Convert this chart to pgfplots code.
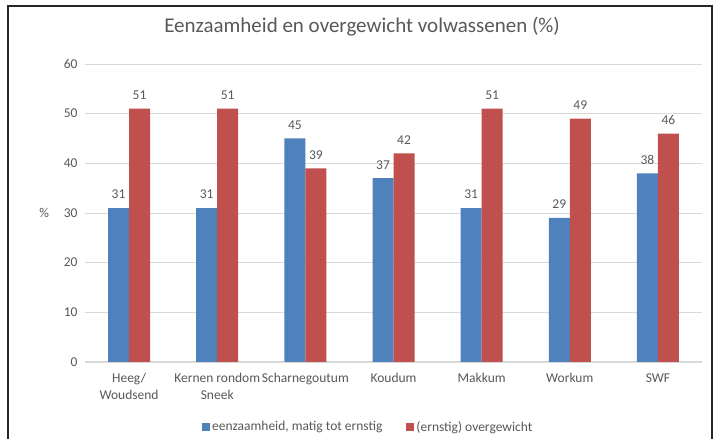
\documentclass[border=0pt]{standalone}
\usepackage{pgfplots}
\pgfplotsset{compat=1.18}
\usepackage{fontspec}
\setmainfont{Carlito}
\definecolor{txt}{HTML}{595959}
\definecolor{bblue}{HTML}{4F81BD}
\definecolor{bred}{HTML}{C0504D}
\definecolor{gridc}{HTML}{D9D9D9}
\begin{document}
\begin{tikzpicture}[x=1bp,y=1bp]
\useasboundingbox (0,0) rectangle (720,439);
\fill[white] (0,0) rectangle (720,439);
\draw[line width=2bp, black!85] (8,0) -- (8,433) -- (712,433) -- (712,0);
\begin{axis}[
  at={(85bp,77bp)}, anchor=south west,
  scale only axis, width=617bp, height=298bp,
  xmin=-0.5, xmax=6.5, ymin=0, ymax=60,
  ytick={0,10,...,60},
  xtick=data,
  xticklabels={{Heeg/\\Woudsend},{Kernen rondom\\Sneek},Scharnegoutum,Koudum,Makkum,Workum,SWF},
  xticklabel style={align=center, font=\fontsize{13.5bp}{17bp}\selectfont, text=txt, yshift=-8bp},
  yticklabel style={font=\fontsize{13.5bp}{16bp}\selectfont, text=txt, xshift=-4bp},
  /pgf/number format/assume math mode=true,
  major tick length=0pt,
  separate axis lines,
  axis x line*=bottom,
  axis y line*=left,
  x axis line style={gridc, line width=1bp, -},
  y axis line style={draw=none},
  ymajorgrids, grid style={gridc, line width=0.8bp},
  ybar=0pt, bar width=21bp,
  nodes near coords,
  every node near coord/.append style={font=\fontsize{13.5bp}{16bp}\selectfont, text=txt, yshift=5.5bp},
  title={Eenzaamheid en overgewicht volwassenen (\%)},
  title style={at={(axis description cs:0.449,1.104)}, anchor=center, font=\fontsize{21bp}{24bp}\selectfont, text=txt},
  ylabel={\%},
  ylabel style={at={(axis description cs:-0.066,0.5)}, rotate=-90, anchor=center, font=\fontsize{13.5bp}{16bp}\selectfont, text=txt},
  legend style={at={(axis description cs:0.459,-0.218)}, anchor=center, draw=none, legend columns=2, font=\fontsize{13.5bp}{16bp}\selectfont, text=txt, /tikz/every even column/.append style={column sep=22bp}, inner xsep=1bp},
  legend image code/.code={\fill[#1] (0bp,-4bp) rectangle (8bp,4bp);},
]
\addplot[fill=bblue, draw=none] coordinates {(0,31) (1,31) (2,45) (3,37) (4,31) (5,29) (6,38)};
\addplot[fill=bred, draw=none] coordinates {(0,51) (1,51) (2,39) (3,42) (4,51) (5,49) (6,46)};
\legend{{eenzaamheid, matig tot ernstig},{(ernstig) overgewicht}}
\end{axis}
\end{tikzpicture}
\end{document}
